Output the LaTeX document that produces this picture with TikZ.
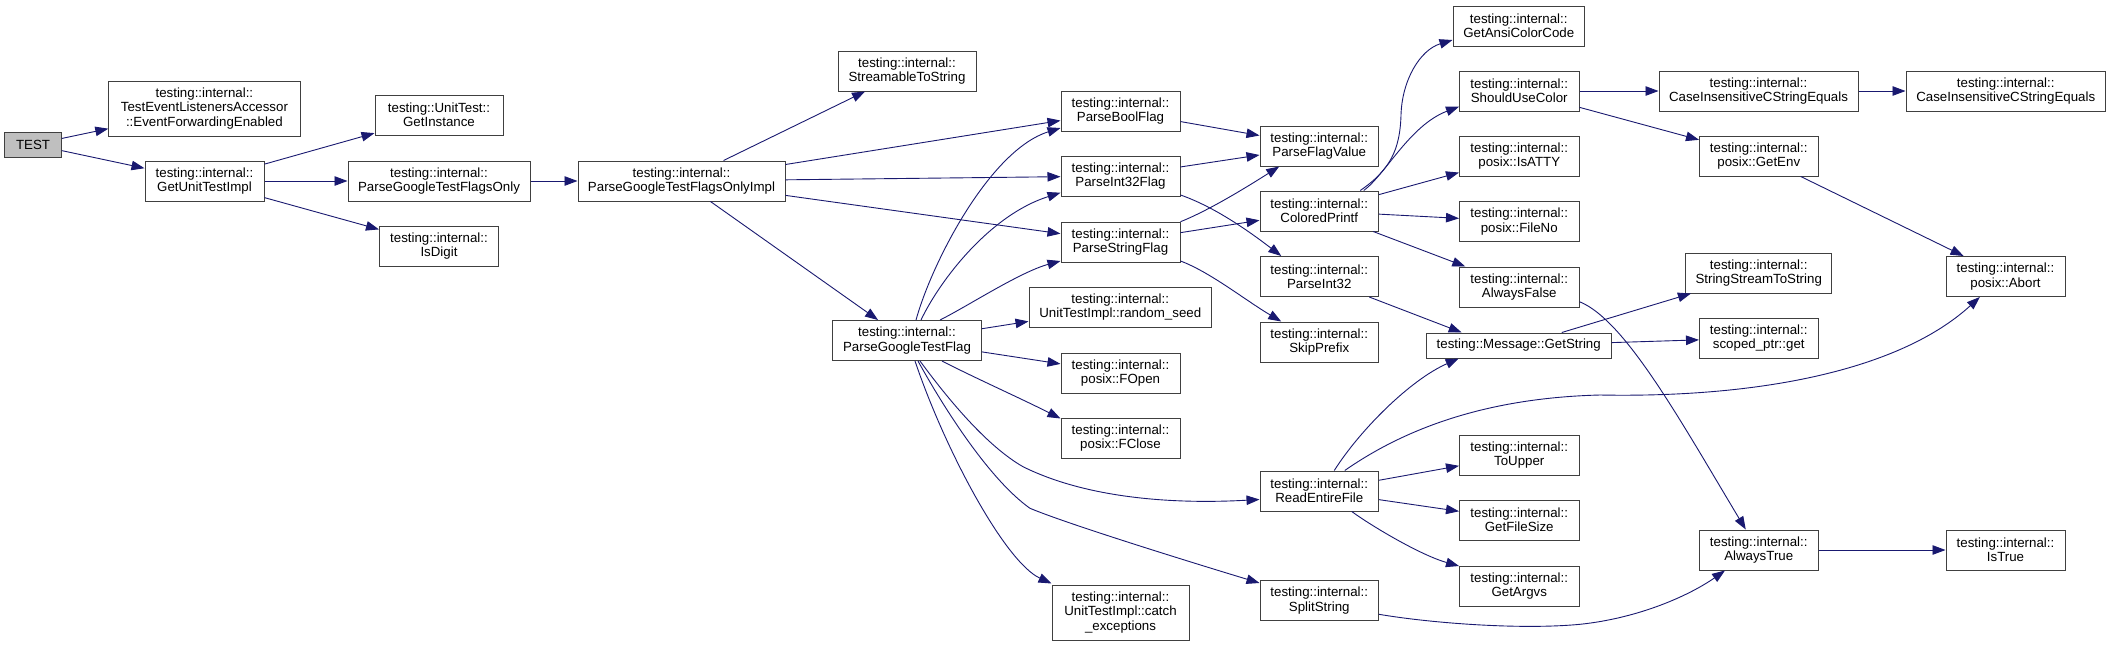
\documentclass[tikz,border=0pt]{standalone}
\usepackage{fontspec}
\setmainfont{Liberation Sans}
\usetikzlibrary{arrows.meta,calc}
\definecolor{edgecol}{HTML}{191970}
\definecolor{boxcol}{HTML}{404040}
\definecolor{rootfill}{HTML}{BFBFBF}
\begin{document}
\begin{tikzpicture}[x=1pt,y=-1pt,
  box/.style={draw=boxcol,line width=1pt,fill=white,inner sep=0pt,align=center,
    font=\fontsize{13.3}{14.3}\selectfont,text=black,minimum height=40pt},
  e/.style={draw=edgecol,line width=0.9pt,-{Triangle[length=13pt,width=9.5pt]}}]
\useasboundingbox[fill=white] (0,0) rectangle (2113,646);
% nodes
\node[box,fill=rootfill,minimum width=56.5pt,minimum height=25pt] (TEST) at (33,144.5) {TEST};
\node[box,minimum width=191.2pt,minimum height=55pt] (TEA) at (204.4,108.5) {testing::internal::\\TestEventListenersAccessor\\::EventForwardingEnabled};
\node[box,minimum width=119pt] (GUTI) at (204.5,181) {testing::internal::\\GetUnitTestImpl};
\node[box,minimum width=128pt] (GI) at (439,115) {testing::UnitTest::\\GetInstance};
\node[box,minimum width=182pt] (PGTFO) at (439,181) {testing::internal::\\ParseGoogleTestFlagsOnly};
\node[box,minimum width=119pt] (ID) at (439,246) {testing::internal::\\IsDigit};
\node[box,minimum width=138pt] (STS) at (907,71) {testing::internal::\\StreamableToString};
\node[box,minimum width=207pt] (Impl) at (681.5,181) {testing::internal::\\ParseGoogleTestFlagsOnlyImpl};
\node[box,minimum width=148.5pt] (PGTF) at (907,340.5) {testing::internal::\\ParseGoogleTestFlag};
\node[box,minimum width=119pt] (PBF) at (1120.5,111) {testing::internal::\\ParseBoolFlag};
\node[box,minimum width=119pt] (PI32F) at (1120.5,176) {testing::internal::\\ParseInt32Flag};
\node[box,minimum width=119pt] (PSF) at (1120.5,242) {testing::internal::\\ParseStringFlag};
\node[box,minimum width=182.5pt] (RS) at (1120.25,307) {testing::internal::\\UnitTestImpl::random\_seed};
\node[box,minimum width=119pt] (FOpen) at (1120.5,373) {testing::internal::\\posix::FOpen};
\node[box,minimum width=119pt] (FClose) at (1120.5,438) {testing::internal::\\posix::FClose};
\node[box,minimum width=137pt,minimum height=55pt] (CE) at (1120.5,612.5) {testing::internal::\\UnitTestImpl::catch\\\_exceptions};
\node[box,minimum width=118.5pt] (PFV) at (1319.25,146) {testing::internal::\\ParseFlagValue};
\node[box,minimum width=118.5pt] (CP) at (1319.25,211) {testing::internal::\\ColoredPrintf};
\node[box,minimum width=118.5pt] (PI32) at (1319.25,276.5) {testing::internal::\\ParseInt32};
\node[box,minimum width=118.5pt] (SP) at (1319.25,342) {testing::internal::\\SkipPrefix};
\node[box,minimum width=118.5pt] (RFE) at (1319.25,491) {testing::internal::\\ReadEntireFile};
\node[box,minimum width=118.5pt] (SS) at (1319.25,600.5) {testing::internal::\\SplitString};
\node[box,minimum width=131.5pt] (GACC) at (1518.75,26) {testing::internal::\\GetAnsiColorCode};
\node[box,minimum width=119.5pt] (SUC) at (1519.25,91) {testing::internal::\\ShouldUseColor};
\node[box,minimum width=119.5pt] (ATTY) at (1519.25,156) {testing::internal::\\posix::IsATTY};
\node[box,minimum width=119.5pt] (FileNo) at (1519.25,221.5) {testing::internal::\\posix::FileNo};
\node[box,minimum width=119.5pt] (AF) at (1519.25,287) {testing::internal::\\AlwaysFalse};
\node[box,minimum width=184.6pt,minimum height=25pt] (GS) at (1518.7,345.5) {testing::Message::GetString};
\node[box,minimum width=119.5pt] (TU) at (1519.25,455) {testing::internal::\\ToUpper};
\node[box,minimum width=119.5pt] (GFS) at (1519.25,520) {testing::internal::\\GetFileSize};
\node[box,minimum width=119.5pt] (GA) at (1519.25,586) {testing::internal::\\GetArgvs};
\node[box,minimum width=199pt] (CI1) at (1758.5,91) {testing::internal::\\CaseInsensitiveCStringEquals};
\node[box,minimum width=199.5pt] (CI2) at (2005.75,91) {testing::internal::\\CaseInsensitiveCStringEquals};
\node[box,minimum width=118.5pt] (GE) at (1758.75,156) {testing::internal::\\posix::GetEnv};
\node[box,minimum width=146pt] (SSTS) at (1758.7,273) {testing::internal::\\StringStreamToString};
\node[box,minimum width=118.5pt] (SPG) at (1758.75,338) {testing::internal::\\scoped\_ptr::get};
\node[box,minimum width=118.5pt] (AT) at (1758.75,550) {testing::internal::\\AlwaysTrue};
\node[box,minimum width=119pt] (Abort) at (2005.5,276.5) {testing::internal::\\posix::Abort};
\node[box,minimum width=119pt] (IsTrue) at (2005.5,550) {testing::internal::\\IsTrue};
% edges
\draw[e] (TEST) -- (TEA);
\draw[e] (TEST) -- (GUTI);
\draw[e] (GUTI) -- (GI);
\draw[e] (GUTI) -- (PGTFO);
\draw[e] (GUTI) -- (ID);
\draw[e] (PGTFO) -- (Impl);
\draw[e] (Impl) -- (STS);
\draw[e] (Impl) -- (PBF);
\draw[e] (Impl) -- (PI32F);
\draw[e] (Impl) -- (PSF);
\draw[e] (Impl) -- (PGTF);
\draw[e] ($(PGTF.north)+(9,0)$) .. controls (932,262) and (990,150) .. ($(PBF.west)+(0,17)$);
\draw[e] ($(PGTF.north)+(14,0)$) .. controls (940,280) and (990,215) .. ($(PI32F.west)+(0,16.7)$);
\draw[e] ($(PGTF.north)+(33,0)$) .. controls (968,306) and (1020,272) .. ($(PSF.west)+(0,19)$);
\draw[e] (PGTF) -- (RS);
\draw[e] (PGTF) -- (FOpen);
\draw[e] ($(PGTF.south)+(35,0)$) .. controls (975,378) and (1020,398) .. ($(FClose.north west)+(0,1)$);
\draw[e] ($(PGTF.south)+(13,0)$) .. controls (945,395) and (985,445) .. (1023,466.7) .. controls (1080,495) and (1160,505) .. ($(RFE.west)+(0,8.5)$);
\draw[e] ($(PGTF.south)+(11,0)$) .. controls (945,410) and (990,480) .. (1030,508.3) .. controls (1070,525) and (1200,565) .. ($(SS.west)+(0,-17.5)$);
\draw[e] ($(PGTF.south)+(8,0)$) .. controls (945,450) and (1005,562) .. ($(CE.north west)+(0,-1)$);
\draw[e] (PBF) -- (PFV);
\draw[e] (PI32F) -- (PFV);
\draw[e] ($(PI32F.east)+(0,19)$) .. controls (1215,207) and (1250,232) .. ($(PI32.north)+(-38,0)$);
\draw[e] ($(PSF.east)+(0,-20.3)$) .. controls (1210,210) and (1250,185) .. ($(PFV.south)+(-40,0)$);
\draw[e] (PSF) -- (CP);
\draw[e] ($(PSF.east)+(0,19)$) .. controls (1210,272) and (1245,300) .. ($(SP.north)+(-38,0)$);
\draw[e] ($(CP.north)+(41,0)$) .. controls (1390,170) and (1400,150) .. (1401,115) .. controls (1402,80) and (1420,50) .. ($(GACC.west)+(0,14)$);
\draw[e] ($(CP.north)+(44.5,0)$) .. controls (1385,175) and (1410,125) .. ($(SUC.west)+(0,15.7)$);
\draw[e] (CP) -- (ATTY);
\draw[e] (CP) -- (FileNo);
\draw[e] (CP) -- (AF);
\draw[e] ($(PI32.south)+(50,0)$) -- ($(GS.north)+(-57,0)$);
\draw[e] (SUC) -- (CI1);
\draw[e] (SUC) -- (GE);
\draw[e] (CI1) -- (CI2);
\draw[e] (GE) -- (Abort);
\draw[e] ($(AF.east)+(0,14.7)$) .. controls (1625,320) and (1680,420) .. ($(AT.north)+(-13,0)$);
\draw[e] (GS) -- (SSTS);
\draw[e] (GS) -- (SPG);
\draw[e] ($(RFE.north)+(15,0)$) .. controls (1360,430) and (1410,380) .. ($(GS.south)+(-60,0)$);
\draw[e] ($(RFE.north)+(25.5,0)$) .. controls (1400,432) and (1480,398) .. (1600,395) .. controls (1760,398) and (1900,370) .. ($(Abort.south)+(-25.7,0)$);
\draw[e] (RFE) -- (TU);
\draw[e] (RFE) -- (GFS);
\draw[e] ($(RFE.south)+(32.5,0)$) .. controls (1370,525) and (1420,555) .. ($(GA.north west)+(0,0.5)$);
\draw[e] ($(SS.east)+(0,13.8)$) .. controls (1430,623) and (1520,630) .. (1580,624.3) .. controls (1640,618) and (1690,595) .. ($(AT.south)+(-33.75,0)$);
\draw[e] (AT) -- (IsTrue);
\end{tikzpicture}
\end{document}
